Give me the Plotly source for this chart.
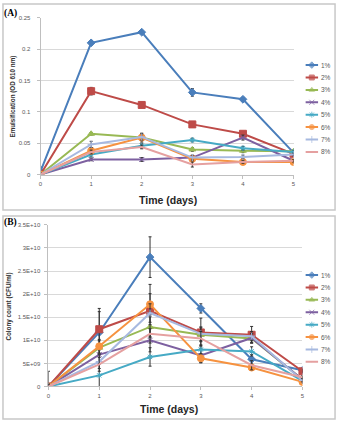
import plotly.graph_objects as go

W, H = 341, 424

days = [0, 1, 2, 3, 4, 5]
series_names = ["1%", "2%", "3%", "4%", "5%", "6%", "7%", "8%"]

# Panel A: Emulsification (OD 610 nm)
emul_1 = [0.005, 0.210, 0.227, 0.131, 0.120, 0.035]
emul_2 = [0.000, 0.133, 0.111, 0.080, 0.065, 0.033]
emul_3 = [0.000, 0.065, 0.059, 0.040, 0.038, 0.037]
emul_4 = [0.000, 0.024, 0.024, 0.027, 0.059, 0.022]
emul_5 = [0.000, 0.032, 0.046, 0.055, 0.042, 0.036]
emul_6 = [0.000, 0.038, 0.059, 0.025, 0.020, 0.020]
emul_7 = [0.000, 0.048, 0.060, 0.027, 0.028, 0.032]
emul_8 = [0.000, 0.036, 0.044, 0.016, 0.020, 0.022]

emul_err_1 = [0.007, 0.003, 0.002, 0.006, 0.003, 0.002]
emul_err_2 = [0.002, 0.006, 0.004, 0.004, 0.003, 0.002]
emul_err_3 = [0.002, 0.002, 0.003, 0.003, 0.003, 0.002]
emul_err_4 = [0.002, 0.002, 0.003, 0.003, 0.004, 0.002]
emul_err_5 = [0.002, 0.004, 0.004, 0.003, 0.003, 0.002]
emul_err_6 = [0.002, 0.005, 0.007, 0.004, 0.002, 0.002]
emul_err_7 = [0.002, 0.005, 0.005, 0.004, 0.003, 0.002]
emul_err_8 = [0.002, 0.003, 0.003, 0.004, 0.002, 0.002]

# Panel B: Colony count (CFU/ml)
cfu_1 = [0.0, 11.7e9, 28.0e9, 16.9e9, 5.9e9, 3.5e9]
cfu_2 = [0.0, 12.4e9, 16.4e9, 11.7e9, 11.2e9, 3.3e9]
cfu_3 = [0.0, 8.4e9, 12.9e9, 11.2e9, 10.4e9, 1.5e9]
cfu_4 = [0.0, 6.9e9, 10.0e9, 6.7e9, 10.5e9, 1.5e9]
cfu_5 = [0.0, 2.4e9, 6.4e9, 8.0e9, 7.6e9, 1.2e9]
cfu_6 = [0.0, 8.7e9, 17.8e9, 6.1e9, 4.1e9, 1.0e9]
cfu_7 = [0.0, 5.4e9, 15.9e9, 11.4e9, 10.9e9, 1.3e9]
cfu_8 = [0.0, 4.8e9, 11.4e9, 10.4e9, 4.6e9, 2.0e9]

cfu_err_1 = [3.3e9, 4.5e9, 4.4e9, 1.0e9, 1.0e9, 0.3e9]
cfu_err_2 = [0.5e9, 4.5e9, 5.7e9, 3.1e9, 1.8e9, 0.3e9]
cfu_err_3 = [0.5e9, 1.5e9, 2.2e9, 1.5e9, 1.0e9, 0.3e9]
cfu_err_4 = [0.5e9, 2.0e9, 2.5e9, 1.5e9, 1.0e9, 0.3e9]
cfu_err_5 = [0.3e9, 2.5e9, 2.0e9, 1.0e9, 1.0e9, 0.3e9]
cfu_err_6 = [0.5e9, 1.5e9, 2.3e9, 1.0e9, 0.5e9, 0.3e9]
cfu_err_7 = [0.5e9, 1.5e9, 2.0e9, 1.5e9, 1.0e9, 0.3e9]
cfu_err_8 = [0.5e9, 1.5e9, 2.0e9, 1.5e9, 1.0e9, 0.3e9]

a_ticks = [0, 0.05, 0.1, 0.15, 0.2, 0.25]
a_ticktext = ["0", "0.05", "0.1", "0.15", "0.2", "0.25"]
b_ticks = [0, 5e9, 1e10, 1.5e10, 2e10, 2.5e10, 3e10, 3.5e10]
b_ticktext = ["0", "5E+09", "1E+10", "1.5E+10", "2E+10", "2.5E+10", "3E+10", "3.5E+10"]

emul = [emul_1, emul_2, emul_3, emul_4, emul_5, emul_6, emul_7, emul_8]
emul_err = [emul_err_1, emul_err_2, emul_err_3, emul_err_4, emul_err_5, emul_err_6, emul_err_7, emul_err_8]
cfu = [cfu_1, cfu_2, cfu_3, cfu_4, cfu_5, cfu_6, cfu_7, cfu_8]
cfu_err = [cfu_err_1, cfu_err_2, cfu_err_3, cfu_err_4, cfu_err_5, cfu_err_6, cfu_err_7, cfu_err_8]

colors = ["#4A7EBB", "#BE4B48", "#98B954", "#7D60A0", "#46AAC5", "#F69240", "#A7B9E0", "#E5A0A0"]
symbols = ["diamond", "square", "triangle-up", "x-thin-open", "asterisk-open", "circle", "cross-thin-open", "line-ew-open"]
msizes = [6, 7, 6, 5, 5, 7, 5, 0.1]

FONT = "Liberation Sans"
TICKC = "#595959"

def px_x(p):
    return p / W

def px_y(p):
    return (H - p) / H

fig = go.Figure()

def add_panel(data, errs, xa, ya):
    for i, name in enumerate(series_names):
        fig.add_trace(go.Scatter(
            x=days, y=data[i], mode="lines+markers", name=name,
            xaxis=xa, yaxis=ya, showlegend=False,
            line=dict(color=colors[i], width=2),
            marker=dict(symbol=symbols[i], size=msizes[i], color=colors[i],
                        line=dict(color=colors[i], width=1)),
            error_y=dict(type="data", array=errs[i], visible=True,
                         color="#333333", thickness=1, width=1.5),
        ))

add_panel(emul, emul_err, "x", "y")
add_panel(cfu, cfu_err, "x2", "y2")

# legends (drawn on small hidden axes)
def add_legend(xa, ya):
    for i, name in enumerate(series_names):
        fig.add_trace(go.Scatter(
            x=[0, 0.5, 1], y=[i, i, i], mode="lines+markers",
            xaxis=xa, yaxis=ya, showlegend=False, hoverinfo="skip",
            line=dict(color=colors[i], width=2),
            marker=dict(symbol=symbols[i], size=[0, min(msizes[i], 5), 0], color=colors[i],
                        line=dict(color=colors[i], width=1)),
        ))
        fig.add_annotation(x=1, y=i, xref=xa, yref=ya, text=name, showarrow=False,
                           xanchor="left", xshift=1,
                           font=dict(family=FONT, size=6.5, color=TICKC))

add_legend("x3", "y3")
add_legend("x4", "y4")

def std_x(domain):
    return dict(domain=domain, range=[0, 5], tickvals=days, ticktext=[str(d) for d in days],
                showgrid=False, zeroline=False, showline=True, linecolor="#BFBFBF",
                linewidth=1, ticks="outside", ticklen=3, tickcolor="#BFBFBF",
                tickfont=dict(family=FONT, size=6, color=TICKC))

def std_y(domain, rng, tv, tt, standoff, anchor):
    return dict(domain=domain, range=rng, tickvals=tv, ticktext=tt, anchor=anchor,
                showgrid=True, gridcolor="#D9D9D9", gridwidth=1, zeroline=False,
                showline=True, linecolor="#BFBFBF", linewidth=1, ticks="outside",
                ticklen=3, tickcolor="#BFBFBF", ticklabelstandoff=standoff,
                tickfont=dict(family=FONT, size=6, color=TICKC))

hidden = dict(visible=False, showgrid=False, zeroline=False)

fig.update_layout(
    width=W, height=H, margin=dict(l=0, r=0, t=0, b=0),
    paper_bgcolor="white", plot_bgcolor="white",
    xaxis=std_x([px_x(39), px_x(295)]) | dict(anchor="y"),
    yaxis=std_y([px_y(174), px_y(15)], [0, 0.25], a_ticks, a_ticktext, 5, "x"),
    xaxis2=std_x([px_x(47), px_x(304)]) | dict(anchor="y2"),
    yaxis2=std_y([px_y(389), px_y(225)], [0, 3.5e10], b_ticks, b_ticktext, 3, "x2"),
    xaxis3=hidden | dict(domain=[px_x(307), px_x(320)], range=[0, 1], anchor="y3"),
    yaxis3=hidden | dict(domain=[px_y(157.3), px_y(56.7)], range=[7.5, -0.5], anchor="x3"),
    xaxis4=hidden | dict(domain=[px_x(307), px_x(320)], range=[0, 1], anchor="y4"),
    yaxis4=hidden | dict(domain=[px_y(370.3), px_y(269.7)], range=[7.5, -0.5], anchor="x4"),
)

# panel frames
for (y0, y1) in [(1, 210), (216, 422)]:
    fig.add_shape(type="rect", xref="paper", yref="paper",
                  x0=px_x(1), x1=px_x(337), y0=px_y(y1), y1=px_y(y0),
                  line=dict(color="#C8C8C8", width=1.5), fillcolor="rgba(0,0,0,0)", layer="below")

# titles and panel labels
def ann(text, x, y, size, bold=True, angle=0, family=FONT, color="#262626", xanchor="center"):
    fig.add_annotation(x=px_x(x), y=px_y(y), xref="paper", yref="paper",
                       text=f"<b>{text}</b>" if bold else text, showarrow=False,
                       textangle=angle, xanchor=xanchor, yanchor="middle",
                       font=dict(family=family, size=size, color=color))

ann("Time (days)", 168, 200, 10.5)
ann("Time (days)", 169, 412, 10.5)
ann("Emulsification (OD 610 nm)", 11, 95, 6.3, angle=-90, color="#333333")
ann("Colony count (CFU/ml)", 7, 308, 6.3, angle=-90, color="#333333")
ann("(A)", 0, 11, 9.5, family="Liberation Serif", color="black", xanchor="left")
ann("(B)", 0, 223, 9.5, family="Liberation Serif", color="black", xanchor="left")

fig.write_html("out.html")
